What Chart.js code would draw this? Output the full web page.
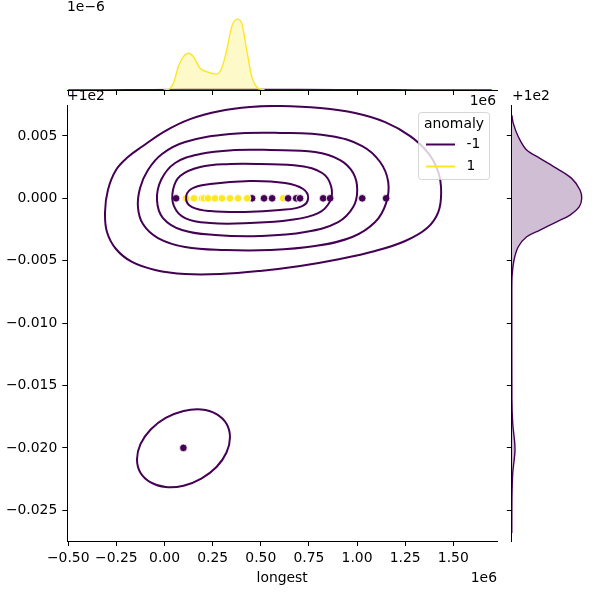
<!DOCTYPE html>
<html>
<head>
<meta charset="utf-8">
<script src="https://cdn.jsdelivr.net/npm/chart.js@4"></script>
<style>
body { margin: 0; background: #fff; }
#wrap { position: relative; width: 600px; height: 600px; }
.box { position: absolute; }
</style>
</head>
<body>
<div id="wrap">
  <div class="box" style="left:0;top:0;width:600px;height:600px"><canvas id="joint"></canvas></div>
  <div class="box" style="left:0;top:0;width:600px;height:100px"><canvas id="margx"></canvas></div>
  <div class="box" style="left:500px;top:95px;width:100px;height:460px"><canvas id="margy"></canvas></div>
</div>
<script>
// axis ticks and limits
const xTicks = [-500000, -250000, 0, 250000, 500000, 750000, 1000000, 1250000, 1500000];
const yTicks = [99.975, 99.980, 99.985, 99.990, 99.995, 100.000, 100.005];
const xMin = -505000, xMax = 1727000;
const yMin = 99.97254, yMax = 100.00748;

// scatter points in drawing order: longest, value, anomaly
const pointX = [60000, 455000, 616000, 112000, 153000, 195000, 205000, 226000, 262000, 299000, 340000, 382000, 429000,
                517000, 559000, 642000, 684000, 704000, 824000, 860000, 1027000, 1151000, 98000];
const pointY = [100, 100, 100, 100, 100, 100, 100, 100, 100, 100, 100, 100, 100,
                100, 100, 100, 100, 100, 100, 100, 100, 100, 99.98];
const pointClass = [-1, -1, 1, 1, 1, 1, 1, 1, 1, 1, 1, 1, 1,
                    -1, -1, -1, -1, -1, -1, -1, -1, -1, -1];

// kde contour lines for anomaly == -1
const contourOuter = [[600000,100.00740],[808000,100.00724],[990000,100.00684],[1146000,100.00611],[1276000,100.00499],[1370000,100.00363],[1422000,100.00211],[1437000,100.00051],[1422000,99.99890],[1364000,99.99762],[1250000,99.99658],[1094000,99.99578],[912000,99.99514],[704000,99.99458],[496000,99.99418],[289000,99.99393],[107000,99.99393],[-49000,99.99426],[-169000,99.99490],[-252000,99.99594],[-299000,99.99730],[-309000,99.99890],[-294000,100.00067],[-252000,100.00227],[-190000,100.00331],[-112000,100.00419],[3000,100.00539],[133000,100.00635],[289000,100.00700],[444000,100.00732]];
const contour2 = [[600000,100.00524],[860000,100.00500],[1027000,100.00419],[1120000,100.00291],[1162000,100.00131],[1151000,99.99962],[1094000,99.99810],[975000,99.99690],[782000,99.99618],[548000,99.99586],[314000,99.99586],[107000,99.99610],[-34000,99.99682],[-112000,99.99794],[-138000,99.99930],[-127000,100.00083],[-86000,100.00227],[-13000,100.00355],[107000,100.00451],[340000,100.00515]];
const contour3 = [[548000,100.00387],[782000,100.00371],[912000,100.00307],[980000,100.00203],[1001000,100.00067],[980000,99.99930],[902000,99.99810],[731000,99.99730],[496000,99.99698],[263000,99.99706],[91000,99.99746],[-8000,99.99842],[-39000,99.99986],[-18000,100.00147],[55000,100.00283],[185000,100.00355],[366000,100.00387]];
const contour4 = [[496000,100.00275],[704000,100.00259],[819000,100.00203],[865000,100.00099],[860000,99.99978],[798000,99.99882],[652000,99.99826],[444000,99.99802],[237000,99.99802],[107000,99.99842],[49000,99.99938],[44000,100.00067],[81000,100.00179],[185000,100.00251],[340000,100.00275]];
const contour5 = [[444000,100.00139],[626000,100.00123],[720000,100.00075],[746000,100.00002],[715000,99.99938],[600000,99.99906],[418000,99.99890],[237000,99.99898],[143000,99.99930],[112000,99.99994],[138000,100.00075],[237000,100.00115]];
const contourLow = [[340000,99.98085],[322000,99.97963],[270000,99.97847],[191000,99.97754],[99000,99.97697],[6000,99.97686],[-72000,99.97723],[-125000,99.97800],[-143000,99.97909],[-125000,99.98030],[-72000,99.98147],[6000,99.98240],[99000,99.98296],[191000,99.98308],[270000,99.98271],[322000,99.98193]];

// marginal densities
const topNormalX = [-5000, 20000, 46000, 72000, 98000, 126000, 150000, 185000, 219000, 271000, 297000, 323000, 349000, 378000, 401000, 427000, 453000, 479000, 505000, 520000];
const topNormalDensity = [0.0, 0.03e-6, 0.31e-6, 1.09e-6, 1.55e-6, 1.71e-6, 1.55e-6, 1.01e-6, 0.85e-6, 0.74e-6, 1.01e-6, 1.86e-6, 2.95e-6, 3.30e-6, 3.10e-6, 1.86e-6, 0.62e-6, 0.13e-6, 0.03e-6, 0.0];
const topAnomalyX = [-500000, -300000, -100000, 100000, 300000, 500000, 700000, 900000, 1100000, 1300000, 1500000, 1700000];
const topAnomalyDensity = [0.002e-6, 0.008e-6, 0.016e-6, 0.022e-6, 0.024e-6, 0.024e-6, 0.022e-6, 0.019e-6, 0.014e-6, 0.008e-6, 0.004e-6, 0.001e-6];
const rightAnomalyY = [100.00667, 100.00601, 100.00494, 100.00387, 100.00321, 100.00240, 100.00160, 100.00067, 100.0, 99.99933, 99.99866, 99.99812, 99.99746, 99.99692, 99.99612, 99.99506, 99.99372, 99.99265, 99.98945, 99.98384, 99.98197, 99.97991, 99.97796, 99.97582, 99.97318];
const rightAnomalyDensity = [0, 2.6, 11.4, 26.1, 49.4, 78.7, 104.9, 119.5, 122.5, 118.3, 102, 78.7, 49.4, 26.1, 11.4, 3.9, 0.4, 0, 0, 0.2, 1.6, 5.6, 1.6, 0.2, 0];

const legendTitle = 'anomaly';
const legendLabels = ['-1', '1'];

const PURPLE = '#440154';
const YELLOW = '#fde725';
const classColor = c => (c === -1 ? PURPLE : YELLOW);

Chart.defaults.font.family = "'DejaVu Sans', sans-serif";
Chart.defaults.font.size = 13.9;
Chart.defaults.color = '#000';

const minus = s => s.replace('-', '\u2212');
const pairs = (xs, ys) => xs.map((x, i) => ({x: x, y: ys[i]}));

// closed contour: wrap one point on each side so the bezier is smooth at the seam,
// and hide the two helper segments
function contourDataset(c) {
    const p = c.map(q => ({x: q[0], y: q[1]}));
    const n = p.length;
    return {
        data: [p[n - 1]].concat(p, [p[0], p[1]]),
        borderColor: PURPLE,
        borderWidth: 2,
        pointRadius: 0,
        tension: 0.4,
        fill: false,
        order: 0,
        segment: {
            borderColor: ctx => (ctx.p0DataIndex === 0 || ctx.p0DataIndex === n + 1) ? 'rgba(0,0,0,0)' : PURPLE
        }
    };
}

const contourSets = [contourOuter, contour2, contour3, contour4, contour5, contourLow].map(contourDataset);

const textPlugin = {
    id: 'texts',
    afterDatasetsDraw(chart) {
        const ctx = chart.ctx;
        ctx.save();
        ctx.font = "13.9px 'DejaVu Sans'";
        ctx.fillStyle = '#000';
        ctx.textBaseline = 'middle';
        ctx.textAlign = 'left';
        ctx.fillText('+1e2', 67, 96);
        ctx.fillText('1e\u22126', 67, 7);
        ctx.fillText('+1e2', 512, 96);
        ctx.textAlign = 'right';
        ctx.fillText('1e6', 496, 101);
        ctx.fillText('1e6', 497, 578);

        // legend box
        const bx = 418.5, by = 112.5, bw = 71, bh = 67, r = 3;
        ctx.beginPath();
        ctx.roundRect(bx, by, bw, bh, r);
        ctx.fillStyle = 'rgba(255,255,255,0.8)';
        ctx.fill();
        ctx.strokeStyle = 'rgba(204,204,204,0.8)';
        ctx.lineWidth = 1;
        ctx.stroke();
        ctx.fillStyle = '#000';
        ctx.textAlign = 'center';
        ctx.fillText(legendTitle, 454, 124.5);
        const cols = [PURPLE, YELLOW];
        const rows = [144.5, 166.5];
        ctx.textAlign = 'left';
        legendLabels.forEach((lab, i) => {
            ctx.beginPath();
            ctx.moveTo(426, rows[i]);
            ctx.lineTo(455, rows[i]);
            ctx.strokeStyle = cols[i];
            ctx.lineWidth = 2;
            ctx.stroke();
            ctx.fillText(lab, 466.5, rows[i]);
        });
        ctx.restore();
    }
};

const axisBase = {
    grid: { drawOnChartArea: false, drawTicks: true, tickLength: 5, tickColor: '#000', tickWidth: 1 },
    border: { color: '#000', width: 1 }
};

new Chart(document.getElementById('joint'), {
    type: 'line',
    data: {
        datasets: contourSets.concat([{
            data: pairs(pointX, pointY),
            showLine: false,
            pointRadius: 3.8,
            pointBackgroundColor: pointClass.map(classColor),
            pointBorderColor: '#fff',
            pointBorderWidth: 0.8,
            order: 1
        }])
    },
    options: {
        responsive: true,
        maintainAspectRatio: false,
        animation: false,
        events: [],
        layout: { padding: { left: 0, top: 105, right: 103, bottom: 0 } },
        plugins: { legend: { display: false }, tooltip: { enabled: false } },
        scales: {
            x: Object.assign({}, axisBase, {
                type: 'linear',
                min: xMin,
                max: xMax,
                afterBuildTicks: s => { s.ticks = xTicks.map(v => ({value: v})); },
                afterFit: s => { s.height = 59; },
                ticks: { color: '#000', padding: 4, maxRotation: 0, autoSkip: false,
                    callback: v => minus((v / 1e6).toFixed(2)) },
                title: { display: true, text: 'longest', color: '#000', padding: { top: 0, bottom: 13 } }
            }),
            y: Object.assign({}, axisBase, {
                type: 'linear',
                min: yMin,
                max: yMax,
                afterBuildTicks: s => { s.ticks = yTicks.map(v => ({value: v})); },
                afterFit: s => { s.width = 67.3; },
                ticks: { color: '#000', padding: 5, autoSkip: false,
                    callback: v => { const d = v - 100; return minus((Math.abs(d) < 1e-9 ? 0 : d).toFixed(3)); } }
            })
        }
    },
    plugins: [textPlugin]
});

// top marginal: density of longest
new Chart(document.getElementById('margx'), {
    type: 'line',
    data: {
        datasets: [
            {
                data: pairs(topNormalX, topNormalDensity),
                borderColor: YELLOW,
                backgroundColor: 'rgba(253,231,37,0.25)',
                borderWidth: 1.4,
                pointRadius: 0,
                cubicInterpolationMode: 'monotone',
                fill: 'origin'
            },
            {
                data: pairs(topAnomalyX, topAnomalyDensity),
                borderColor: PURPLE,
                backgroundColor: 'rgba(68,1,84,0.25)',
                borderWidth: 1.4,
                pointRadius: 0,
                cubicInterpolationMode: 'monotone',
                fill: 'origin'
            }
        ]
    },
    options: {
        responsive: true,
        maintainAspectRatio: false,
        animation: false,
        events: [],
        layout: { padding: { left: 67.3, top: 14.8, right: 103, bottom: 0 } },
        plugins: { legend: { display: false }, tooltip: { enabled: false } },
        scales: {
            x: Object.assign({}, axisBase, {
                type: 'linear',
                min: xMin,
                max: xMax,
                afterBuildTicks: s => { s.ticks = xTicks.map(v => ({value: v})); },
                afterFit: s => { s.height = 10; },
                ticks: { display: false }
            }),
            y: { display: false, min: 0, max: 3.5e-6 }
        }
    }
});

// right marginal: density of value
new Chart(document.getElementById('margy'), {
    type: 'line',
    data: {
        datasets: [{
            data: rightAnomalyY.map((y, i) => ({x: rightAnomalyDensity[i], y: y})),
            borderColor: PURPLE,
            backgroundColor: 'rgba(68,1,84,0.25)',
            borderWidth: 1.4,
            pointRadius: 0,
            tension: 0.35,
            fill: 'shape'
        }]
    },
    options: {
        responsive: true,
        maintainAspectRatio: false,
        animation: false,
        events: [],
        layout: { padding: { left: 0, top: 10, right: 14, bottom: 14 } },
        plugins: { legend: { display: false }, tooltip: { enabled: false } },
        scales: {
            x: { type: 'linear', display: false, min: 0, max: 130 },
            y: Object.assign({}, axisBase, {
                type: 'linear',
                min: yMin,
                max: yMax,
                afterBuildTicks: s => { s.ticks = yTicks.map(v => ({value: v})); },
                afterFit: s => { s.width = 11.8; },
                ticks: { display: false }
            })
        }
    }
});
</script>
</body>
</html>
